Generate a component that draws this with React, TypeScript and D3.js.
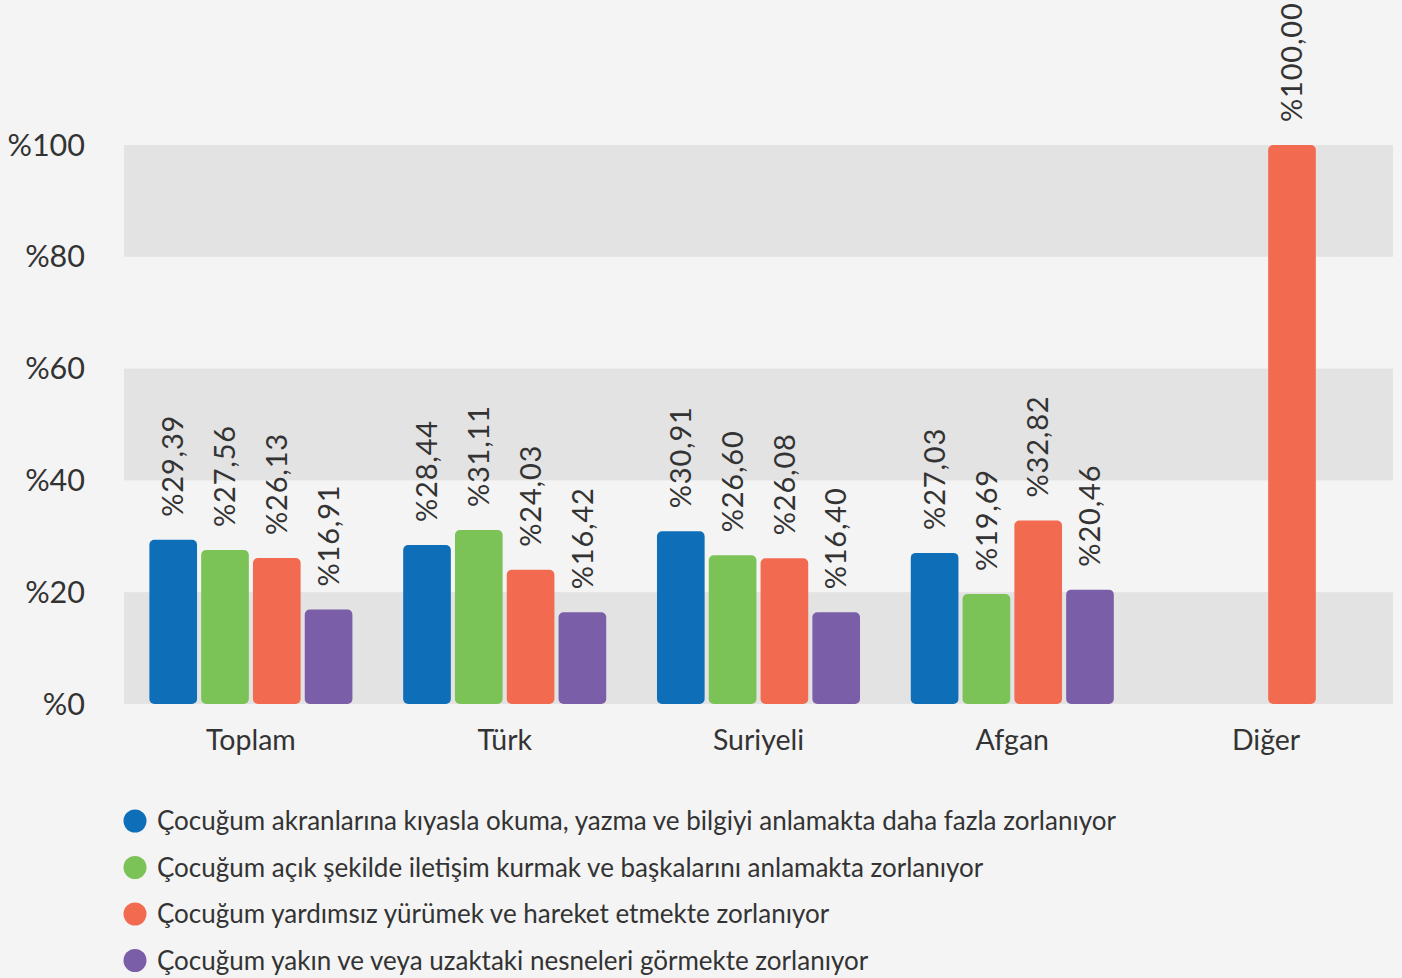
import React from "react";
import * as d3 from "d3";

const categories = ["Toplam", "Türk", "Suriyeli", "Afgan", "Diğer"];
const seriesNames = [
  "Çocuğum akranlarına kıyasla okuma, yazma ve bilgiyi anlamakta daha fazla zorlanıyor",
  "Çocuğum açık şekilde iletişim kurmak ve başkalarını anlamakta zorlanıyor",
  "Çocuğum yardımsız yürümek ve hareket etmekte zorlanıyor",
  "Çocuğum yakın ve veya uzaktaki nesneleri görmekte zorlanıyor",
];
const seriesColors = ["#0e6eb8", "#7bc257", "#f26a50", "#7a5ea8"];
const s1Values: (number | null)[] = [29.39, 28.44, 30.91, 27.03, null];
const s2Values: (number | null)[] = [27.56, 31.11, 26.6, 19.69, null];
const s3Values: (number | null)[] = [26.13, 24.03, 26.08, 32.82, 100.0];
const s4Values: (number | null)[] = [16.91, 16.42, 16.4, 20.46, null];
const seriesValues = [s1Values, s2Values, s3Values, s4Values];
const yTicks = [0, 20, 40, 60, 80, 100];

const W = 1402;
const H = 978;
const FONT = "Lato, 'Noto Sans', sans-serif";

export default function App() {
  const left = 124;
  const right = 1393;
  const y = d3.scaleLinear().domain([0, 100]).range([704, 145]);
  const x0 = d3
    .scaleBand<string>()
    .domain(categories)
    .range([left, right])
    .paddingInner(0.2)
    .paddingOuter(0.1);
  const x1 = d3
    .scaleBand<number>()
    .domain(d3.range(seriesNames.length))
    .range([0, x0.bandwidth()])
    .paddingInner(0.08);
  const fmt = (v: number) => "%" + v.toFixed(2).replace(".", ",");

  const bands = [];
  for (let i = 0; i < yTicks.length - 1; i++) {
    if (i % 2 === 0) {
      bands.push(
        <rect
          key={"b" + i}
          x={left}
          y={y(yTicks[i + 1])}
          width={right - left}
          height={y(yTicks[i]) - y(yTicks[i + 1])}
          fill="#e3e3e3"
        />
      );
    }
  }

  return (
    <svg
      width={W}
      height={H}
      style={{ position: "absolute", left: 0, top: 0, background: "#f4f4f4" }}
      fontFamily={FONT}
    >
      <rect x={0} y={0} width={W} height={H} fill="#f4f4f4" />
      {bands}
      {yTicks.map((t) => (
        <text
          key={"yt" + t}
          x={85}
          y={y(t)}
          dy="0.35em"
          textAnchor="end"
          fontSize={30.5}
          fill="#333"
        >
          {"%" + t}
        </text>
      ))}
      {categories.map((c, ci) => (
        <g key={c} transform={`translate(${x0(c)},0)`}>
          {seriesValues.map((vals, si) => {
            const v = vals[ci];
            if (v == null) return null;
            const bx = x1(si)!;
            const bw = x1.bandwidth();
            const top = y(v);
            const cx = bx + bw / 2;
            return (
              <g key={si}>
                <rect
                  x={bx}
                  y={top}
                  width={bw}
                  height={y(0) - top}
                  rx={5}
                  fill={seriesColors[si]}
                />
                <text
                  transform={`translate(${cx},${top - 23}) rotate(-90)`}
                  dy="0.35em"
                  textAnchor="start"
                  fontSize={29}
                  letterSpacing={0.8}
                  fill="#333"
                >
                  {fmt(v)}
                </text>
              </g>
            );
          })}
          <text
            x={x0.bandwidth() / 2}
            y={750}
            textAnchor="middle"
            fontSize={28.5}
            fill="#333"
          >
            {c}
          </text>
        </g>
      ))}
      {seriesNames.map((n, i) => (
        <g key={"l" + i} transform={`translate(0,${821 + i * 46.5})`}>
          <circle cx={135} cy={0} r={11.5} fill={seriesColors[i]} />
          <text x={157} y={0} dy="0.35em" fontSize={26} fill="#333">
            {n}
          </text>
        </g>
      ))}
    </svg>
  );
}
